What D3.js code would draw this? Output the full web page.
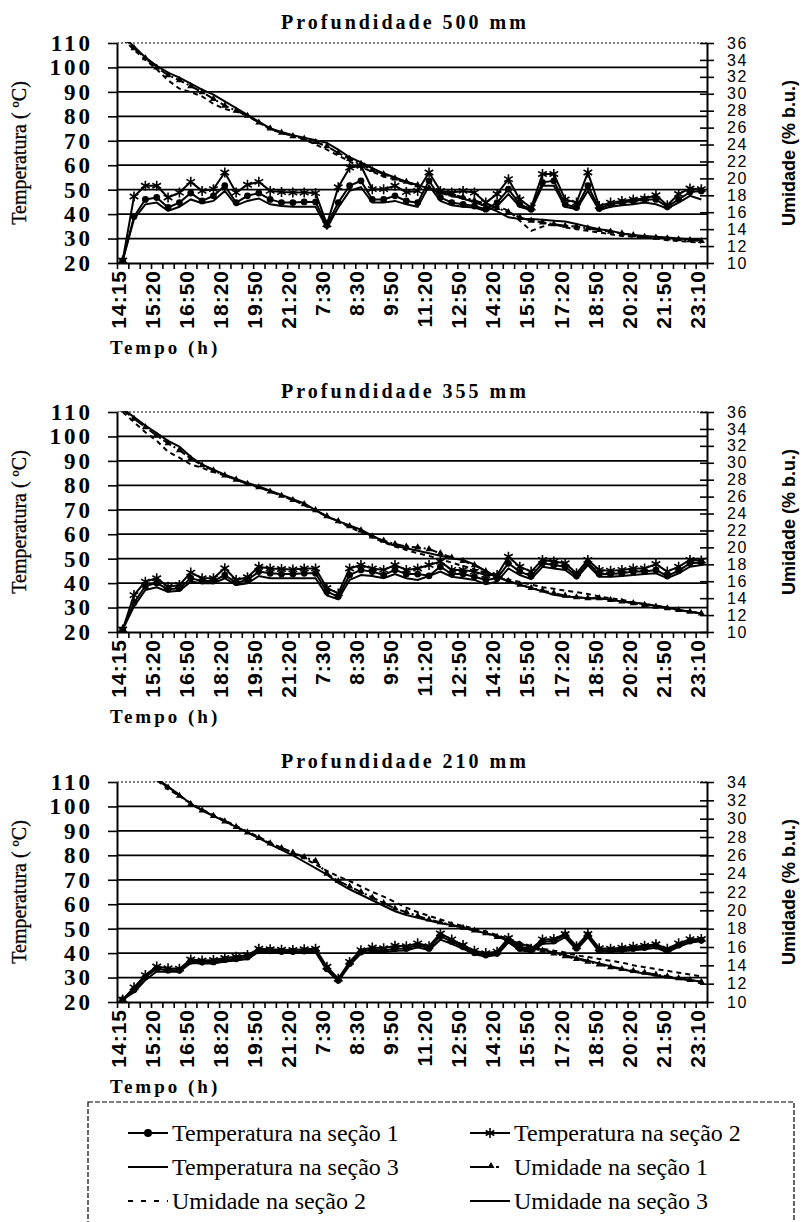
<!DOCTYPE html>
<html lang="pt">
<head>
  <meta charset="UTF-8">
  <title>Profundidade</title>
  <style>
    body { margin: 0; background: #ffffff; }
    svg { display: block; background: #ffffff; }
    .serif { font-family: "Liberation Serif", "Times New Roman", serif; }
    .sans { font-family: "Liberation Sans", Arial, sans-serif; }
  </style>
  <script type="text/javascript" src="https://d3js.org/d3.v7.min.js"></script>
</head>
<body>
</body>
<script type="text/javascript">

  // categories (time of reading), labels shown every third one
  var categories = ["14:15","14:35","15:00","15:20","15:50","16:20","16:50","17:20","17:50","18:20",
    "18:50","19:20","19:50","20:20","20:50","21:20","21:50","22:20","7:30","7:50",
    "8:10","8:30","8:50","9:20","9:50","10:20","10:50","11:20","11:50","12:20",
    "12:50","13:20","13:50","14:20","14:50","15:20","15:50","16:20","16:50","17:20",
    "17:50","18:20","18:50","19:20","19:50","20:20","20:50","21:20","21:50","22:20",
    "22:50","23:10"];

  var panelTitles = ["Profundidade 500 mm", "Profundidade 355 mm", "Profundidade 210 mm"];
  var tempTicks = [20, 30, 40, 50, 60, 70, 80, 90, 100, 110];
  var umidMax = [36, 36, 34];

  // ---- 500 mm ----
  var temp1_500 = [21, 39, 46, 46.8, 42.7, 44.7, 48.6, 45.4, 47.5, 51.6, 44.7, 47.5, 48.6, 46, 44.7, 44.7, 45, 45, 35.4, 44.7,
    51.6, 53.6, 46, 46, 47.5, 45.4, 44.7, 53.6, 46.8, 44.7, 44, 43.3, 42, 44.7, 50.2, 44, 42, 53, 53.6, 44,
    42.7, 51.6, 42.3, 44, 44.7, 45.4, 46, 46, 43, 46, 49, 49.5];
  var temp2_500 = [21, 47.2, 51.6, 51.6, 46.8, 48.8, 53.2, 49.5, 50.2, 57, 48.8, 52, 53.2, 49.5, 49, 48.8, 48.8, 48.6, 35.8, 51,
    59, 59.8, 50.2, 50.2, 51.6, 49, 49.5, 57, 49.5, 48.8, 49.5, 48.8, 44.7, 48.2, 54.3, 46, 42.7, 56.4, 56.4, 46,
    44.7, 57, 43.3, 44.7, 45.4, 46, 46.4, 47.7, 43.6, 48.2, 50.5, 50.2];
  var temp3_500 = [21, 38, 44, 44.7, 41.3, 43, 46, 44.5, 45.4, 49.5, 43.6, 45.4, 46.4, 44, 43.3, 43, 43, 43, 34.4, 42.7,
    49.5, 51, 44.7, 44.7, 45.4, 44, 43, 51.6, 45.4, 43.6, 43, 42.7, 41.3, 43.3, 48.2, 43, 41.7, 51.6, 51.6, 43,
    42, 49.5, 41.7, 43, 43.6, 44, 44.7, 44, 42.3, 44.7, 47.5, 46];
  var umid1_500 = [36.7, 35.4, 34.2, 33.1, 32.2, 31.6, 30.9, 30.2, 29.4, 28.6, 28.0, 27.4, 26.6, 25.9, 25.4, 25.0, 24.7, 24.3, 23.8, 23.0,
    22.3, 21.7, 21.0, 20.5, 20.0, 19.6, 19.2, 18.8, 18.4, 18.1, 17.8, 17.4, 17.0, 16.5, 16.0, 15.4, 15.0, 14.8, 14.6, 14.4,
    14.3, 14.1, 13.9, 13.7, 13.5, 13.3, 13.1, 13.0, 12.9, 12.8, 12.7, 12.6];
  var umid2_500 = [36.5, 35.2, 34.0, 32.9, 31.6, 30.6, 30.2, 29.7, 28.8, 28.2, 27.9, 27.4, 26.6, 25.8, 25.4, 25.0, 24.6, 24.0, 23.4, 22.7,
    22.0, 21.3, 20.8, 20.2, 19.9, 19.5, 19.1, 18.7, 18.3, 17.9, 17.6, 17.3, 17.0, 16.7, 16.2, 15.0, 13.8, 14.3, 14.6, 14.2,
    14.0, 13.8, 13.6, 13.4, 13.2, 13.1, 13.0, 12.9, 12.7, 12.6, 12.5, 12.4];
  var umid3_500 = [36.8, 35.6, 34.3, 33.3, 32.5, 31.9, 31.2, 30.5, 29.9, 29.1, 28.3, 27.5, 26.7, 25.9, 25.5, 25.1, 24.8, 24.5, 24.2, 23.4,
    22.5, 21.9, 21.2, 20.6, 20.1, 19.6, 19.2, 18.8, 18.4, 18.0, 17.6, 17.2, 16.7, 16.1, 15.4, 15.2, 15.2, 15.1, 15.0, 14.9,
    14.6, 14.3, 14.0, 13.8, 13.5, 13.3, 13.2, 13.1, 13.0, 12.9, 12.8, 12.7];

  // ---- 355 mm ----
  var temp1_355 = [21, 32, 38.8, 40, 37.5, 37.9, 42, 40.9, 40.9, 43.3, 40.2, 41.3, 44.7, 44, 43.7, 43.7, 44, 44, 36.5, 34.5,
    43.3, 45.4, 44.7, 43.3, 45.4, 43.7, 43.7, 43, 46.7, 43.7, 43.7, 42.6, 41.3, 42, 48.1, 44.7, 42.9, 48.1, 47.4, 46.7,
    42.9, 48.4, 43.7, 43.7, 44, 44.7, 44.7, 45.4, 42.9, 45.1, 48.1, 48.4];
  var temp2_355 = [21, 35.1, 40.6, 42, 38.5, 39.2, 44.3, 42, 42, 46.1, 41.3, 42.4, 46.7, 46, 45.8, 45.6, 46, 46, 38, 35.8,
    46, 47.4, 46, 45.4, 47.4, 45.4, 46, 47.4, 48.8, 45.4, 45.4, 44.7, 43.3, 43.3, 50.8, 46.7, 44.7, 49.5, 48.8, 48.1,
    44, 49.5, 45.4, 45.1, 45.4, 46, 46, 47.8, 44.7, 46.7, 49.5, 49.2];
  var temp3_355 = [21, 30.5, 37.2, 38.3, 36.5, 36.9, 40.6, 39.9, 39.9, 42, 39.2, 39.9, 42.9, 42, 42, 42, 42, 42, 35, 33.4,
    41.3, 43.3, 42.9, 42, 43.7, 42, 41.3, 42.9, 44.7, 42.6, 42, 41.3, 39.6, 40.6, 46, 43.3, 41.6, 46.7, 46, 45.4,
    42, 47.4, 42.6, 42.6, 42.9, 43.3, 43.7, 44, 42, 44, 46.7, 47.4];
  var umid1_355 = [36.3, 35.2, 34.2, 33.2, 32.3, 31.5, 30.5, 29.7, 29.1, 28.5, 28.0, 27.5, 27.1, 26.6, 26.1, 25.6, 25.1, 24.4, 23.7, 23.1,
    22.5, 22.0, 21.3, 20.8, 20.4, 20.1, 20.0, 19.8, 19.3, 18.8, 18.4, 17.9, 17.2, 16.6, 16.0, 15.6, 15.2, 14.9, 14.6, 14.3,
    14.1, 14.0, 14.0, 13.8, 13.6, 13.4, 13.2, 13.0, 12.8, 12.6, 12.4, 12.2];
  var umid2_355 = [36.0, 34.8, 33.6, 32.6, 31.3, 30.6, 29.8, 29.4, 28.9, 28.5, 28.0, 27.5, 27.1, 26.6, 26.1, 25.6, 25.0, 24.3, 23.7, 23.0,
    22.4, 21.8, 21.2, 20.6, 20.1, 19.7, 19.3, 19.0, 18.6, 18.2, 17.8, 17.4, 17.0, 16.6, 16.2, 15.9, 15.6, 15.3, 15.1, 14.9,
    14.7, 14.5, 14.2, 14.0, 13.8, 13.5, 13.3, 13.1, 12.9, 12.6, 12.4, 12.2];
  var umid3_355 = [36.4, 35.4, 34.4, 33.5, 32.6, 31.9, 30.7, 29.8, 29.2, 28.6, 28.1, 27.6, 27.2, 26.7, 26.2, 25.7, 25.2, 24.4, 23.6, 23.1,
    22.6, 22.1, 21.4, 20.7, 20.2, 19.9, 19.6, 19.3, 19.0, 18.7, 18.5, 18.0, 17.2, 16.5, 16.0, 15.6, 15.2, 14.8, 14.4, 14.2,
    14.1, 14.0, 14.0, 13.8, 13.6, 13.5, 13.3, 13.1, 12.9, 12.6, 12.4, 12.2];

  // ---- 210 mm ----
  var temp1_210 = [21, 25, 30.2, 33.6, 33, 33, 36.8, 36.4, 36.4, 37.3, 37.7, 38.4, 41.1, 41.1, 40.7, 40.7, 40.9, 41.1, 33.6, 28.9,
    35.7, 40.5, 41.4, 41.1, 41.8, 41.9, 43.3, 41.9, 47, 44.7, 42.6, 40.1, 39.2, 39.9, 45.3, 41.9, 41.2, 44.7, 45, 47.4,
    42, 47.4, 41.2, 41.2, 41.5, 41.9, 42.3, 42.9, 41, 43.3, 45, 45.3];
  var temp2_210 = [21, 26, 31, 34.5, 33.8, 33.6, 37.4, 37, 37.2, 38, 38.5, 39.2, 41.8, 41.6, 41.4, 41.3, 41.6, 41.8, 34.4, 29.5,
    36.4, 41.2, 42.3, 42, 43, 42.8, 44, 42.8, 48, 45.6, 43.3, 41, 40, 40.6, 46.2, 42.6, 41.8, 45.6, 45.8, 47.8,
    42.8, 47.8, 42, 41.8, 42.2, 42.6, 43, 43.6, 41.8, 44, 45.7, 45.8];
  var temp3_210 = [21, 24, 29, 32.5, 32.4, 32.4, 36, 35.8, 35.8, 36.6, 37, 37.6, 40.5, 40.5, 40.1, 40.1, 40.2, 40.4, 33, 28.5,
    35, 39.8, 40.6, 40.4, 41, 41.1, 42.4, 41.2, 45.5, 43.8, 41.8, 39.5, 38.6, 39.2, 44.4, 41.2, 40.6, 43.8, 44, 46.5,
    41.4, 46.5, 40.6, 40.6, 40.8, 41.2, 41.6, 42.2, 40.4, 42.6, 44.3, 44.8];
  var umid1_210 = [37.4, 36.5, 35.4, 34.3, 33.4, 32.5, 31.6, 30.9, 30.3, 29.7, 29.1, 28.5, 27.9, 27.3, 26.8, 26.3, 25.8, 25.4, 24.0, 23.2,
    22.6, 22.0, 21.4, 20.8, 20.2, 19.8, 19.4, 19.0, 18.7, 18.4, 18.1, 17.8, 17.5, 17.1, 16.7, 16.3, 15.9, 15.6, 15.3, 15.0,
    14.7, 14.4, 14.1, 13.8, 13.6, 13.4, 13.2, 13.0, 12.8, 12.6, 12.4, 12.2];
  var umid2_210 = [37.2, 36.3, 35.3, 34.2, 33.2, 32.5, 31.7, 31.0, 30.4, 29.8, 29.2, 28.6, 28.0, 27.4, 26.8, 26.3, 25.7, 25.0, 24.3, 23.7,
    23.2, 22.6, 22.0, 21.5, 20.9, 20.3, 19.8, 19.4, 19.0, 18.6, 18.3, 18.0, 17.7, 17.3, 16.9, 16.5, 16.1, 15.8, 15.6, 15.4,
    15.1, 14.9, 14.7, 14.5, 14.3, 14.0, 13.8, 13.6, 13.4, 13.2, 13.0, 12.8];
  var umid3_210 = [37.6, 36.6, 35.5, 34.4, 33.5, 32.6, 31.6, 30.9, 30.3, 29.7, 29.1, 28.5, 27.9, 27.2, 26.6, 26.0, 25.3, 24.6, 23.9, 23.0,
    22.3, 21.7, 21.1, 20.5, 19.9, 19.5, 19.2, 18.9, 18.6, 18.4, 18.1, 17.8, 17.5, 17.2, 16.8, 16.4, 16.0, 15.7, 15.4, 15.1,
    14.8, 14.5, 14.2, 13.9, 13.6, 13.3, 13.1, 12.9, 12.7, 12.5, 12.4, 12.2];

  var legendLabels = ["Temperatura na seção 1", "Temperatura na seção 2", "Temperatura na seção 3",
    "Umidade na seção 1", "Umidade na seção 2", "Umidade na seção 3"];

  var panels = [
    { title: panelTitles[0], umidMax: umidMax[0], temps: [temp1_500, temp2_500, temp3_500], umids: [umid1_500, umid2_500, umid3_500] },
    { title: panelTitles[1], umidMax: umidMax[1], temps: [temp1_355, temp2_355, temp3_355], umids: [umid1_355, umid2_355, umid3_355] },
    { title: panelTitles[2], umidMax: umidMax[2], temps: [temp1_210, temp2_210, temp3_210], umids: [umid1_210, umid2_210, umid3_210] }
  ];

  var plotTops = [43, 412, 782];
  var plotH = 220;
  var plotL = 117, plotR = 707;

  var svg = d3.select("body")
    .append("svg")
    .attr("width", 803)
    .attr("height", 1222);

  var symAsterisk = d3.symbol().type(d3.symbolAsterisk).size(70);
  var symTriangle = d3.symbol().type(d3.symbolTriangle).size(22);

  panels.forEach(function(p, pi) {
    var top = plotTops[pi], bottom = top + plotH;

    var x = d3.scaleBand().domain(d3.range(categories.length)).range([plotL, plotR]);
    var xb = d3.scaleLinear().domain([0, categories.length]).range([plotL, plotR]);
    var yT = d3.scaleLinear().domain([20, 110]).range([bottom, top]);
    var yU = d3.scaleLinear().domain([10, p.umidMax]).range([bottom, top]);
    var cx = function(i) { return x(i) + x.bandwidth() / 2; };

    var g = svg.append("g").attr("class", "panel");

    var clipId = "clip" + pi;
    svg.append("clipPath").attr("id", clipId)
      .append("rect")
      .attr("x", plotL).attr("y", top - 1)
      .attr("width", plotR - plotL + 2).attr("height", plotH + 2);

    // title
    g.append("text")
      .attr("class", "serif")
      .attr("x", 405).attr("y", top - 14)
      .attr("text-anchor", "middle")
      .style("font-size", "20px").style("font-weight", "bold")
      .style("letter-spacing", "3px")
      .text(p.title);

    // horizontal grid
    g.append("g")
      .selectAll("line")
      .data(tempTicks.slice(1))
      .enter().append("line")
      .attr("x1", plotL).attr("x2", plotR)
      .attr("y1", function(d) { return yT(d); })
      .attr("y2", function(d) { return yT(d); })
      .attr("stroke", "#000")
      .attr("stroke-width", function(d) { return d === 110 ? 1.2 : 1.8; })
      .attr("stroke-dasharray", function(d) { return d === 110 ? "2,2" : null; });

    // left axis
    var axL = g.append("g")
      .attr("transform", "translate(" + plotL + ",0)")
      .call(d3.axisLeft(yT).tickValues(tempTicks).tickSize(9).tickSizeOuter(0));
    axL.select(".domain").attr("stroke-width", 2);
    axL.selectAll(".tick line").attr("stroke-width", 1.6);
    axL.selectAll("text")
      .attr("class", "serif")
      .attr("x", -24)
      .style("font-size", "23px").style("font-weight", "bold")
      .style("letter-spacing", "3px")
      .attr("fill", "#000");

    // right axis
    var axR = g.append("g")
      .attr("transform", "translate(" + plotR + ",0)")
      .call(d3.axisRight(yU).tickValues(d3.range(10, p.umidMax + 1, 2)).tickSize(7).tickSizeOuter(0));
    axR.select(".domain").attr("stroke-width", 2);
    axR.selectAll(".tick line").attr("x1", -7).attr("x2", 7).attr("stroke-width", 1.6);
    axR.selectAll("text")
      .attr("class", "sans")
      .attr("x", 20)
      .style("font-size", "16px")
      .style("letter-spacing", "1.5px")
      .attr("fill", "#000");

    // bottom axis: tick marks on category boundaries
    var axB = g.append("g")
      .attr("transform", "translate(0," + bottom + ")")
      .call(d3.axisBottom(xb).tickValues(d3.range(categories.length + 1)).tickSize(6).tickSizeOuter(0).tickFormat(""));
    axB.select(".domain").attr("stroke-width", 2);
    axB.selectAll(".tick line").attr("stroke-width", 1.6);

    // bottom axis labels
    var axLab = g.append("g")
      .attr("transform", "translate(0," + bottom + ")")
      .call(d3.axisBottom(x)
        .tickValues(d3.range(0, categories.length, 3))
        .tickSize(0)
        .tickFormat(function(i) { return categories[i]; }));
    axLab.select(".domain").remove();
    axLab.selectAll("text")
      .attr("class", "sans")
      .attr("transform", "rotate(-90)")
      .attr("x", -7).attr("y", -4)
      .attr("dy", "0.35em")
      .style("text-anchor", "end")
      .style("font-size", "21px").style("font-weight", "bold")
      .style("letter-spacing", "1px")
      .attr("fill", "#000");

    // axis titles
    g.append("text")
      .attr("class", "serif")
      .attr("transform", "translate(19," + (top + plotH / 2) + ") rotate(-90)")
      .attr("text-anchor", "middle").attr("dy", "0.35em")
      .style("font-size", "20px")
      .attr("stroke", "#000").attr("stroke-width", 0.3)
      .text("Temperatura ( ºC)");

    g.append("text")
      .attr("class", "sans")
      .attr("transform", "translate(789," + (top + plotH / 2) + ") rotate(-90)")
      .attr("text-anchor", "middle").attr("dy", "0.35em")
      .style("font-size", "18px").style("font-weight", "bold")
      .text("Umidade (% b.u.)");

    g.append("text")
      .attr("class", "serif")
      .attr("x", 110).attr("y", bottom + 91)
      .style("font-size", "19px").style("font-weight", "bold")
      .style("letter-spacing", "3px")
      .text("Tempo (h)");

    // series
    var series = g.append("g").attr("clip-path", "url(#" + clipId + ")");

    var lineU = d3.line().x(function(d, i) { return cx(i); }).y(function(d) { return yU(d); });
    var lineT = d3.line().x(function(d, i) { return cx(i); }).y(function(d) { return yT(d); });

    var umidDash = ["9,3,2,3", "5,4", null];
    p.umids.forEach(function(arr, k) {
      series.append("path")
        .datum(arr)
        .attr("d", lineU)
        .attr("fill", "none")
        .attr("stroke", "#000")
        .attr("stroke-width", 2)
        .attr("stroke-dasharray", umidDash[k]);
    });
    series.append("g").selectAll("path")
      .data(p.umids[0])
      .enter().append("path")
      .attr("d", symTriangle)
      .attr("transform", function(d, i) { return "translate(" + cx(i) + "," + yU(d) + ")"; })
      .attr("fill", "#000");

    p.temps.forEach(function(arr) {
      series.append("path")
        .datum(arr)
        .attr("d", lineT)
        .attr("fill", "none")
        .attr("stroke", "#000")
        .attr("stroke-width", 2);
    });
    series.append("g").selectAll("circle")
      .data(p.temps[0])
      .enter().append("circle")
      .attr("cx", function(d, i) { return cx(i); })
      .attr("cy", function(d) { return yT(d); })
      .attr("r", 3.4)
      .attr("fill", "#000");
    series.append("g").selectAll("path")
      .data(p.temps[1])
      .enter().append("path")
      .attr("d", symAsterisk)
      .attr("transform", function(d, i) { return "translate(" + cx(i) + "," + yT(d) + ")"; })
      .attr("fill", "none")
      .attr("stroke", "#000")
      .attr("stroke-width", 1.6);
  });

  // legend
  var leg = svg.append("g").attr("class", "legend");
  leg.append("rect")
    .attr("x", 88).attr("y", 1102)
    .attr("width", 706).attr("height", 140)
    .attr("fill", "none")
    .attr("stroke", "#000")
    .attr("stroke-width", 1.2)
    .attr("stroke-dasharray", "5,2");

  var legCols = [128, 470];
  var legRows = [1133, 1167, 1201];
  var legKinds = ["circle", "asterisk", "line", "triangle", "dash", "line"];

  legendLabels.forEach(function(lbl, k) {
    var lx = legCols[k % 2], ly = legRows[Math.floor(k / 2)];
    var item = leg.append("g");
    var kind = legKinds[k];
    var dash = kind === "triangle" ? "20,6,3,20" : (kind === "dash" ? "5,8" : null);
    item.append("line")
      .attr("x1", lx).attr("x2", lx + 40)
      .attr("y1", ly).attr("y2", ly)
      .attr("stroke", "#000").attr("stroke-width", 2)
      .attr("stroke-dasharray", dash);
    if (kind === "circle") {
      item.append("circle").attr("cx", lx + 20).attr("cy", ly).attr("r", 4).attr("fill", "#000");
    } else if (kind === "asterisk") {
      item.append("path").attr("d", symAsterisk)
        .attr("transform", "translate(" + (lx + 20) + "," + ly + ")")
        .attr("fill", "none").attr("stroke", "#000").attr("stroke-width", 1.6);
    } else if (kind === "triangle") {
      item.append("path").attr("d", symTriangle)
        .attr("transform", "translate(" + (lx + 21) + "," + (ly - 1) + ")")
        .attr("fill", "#000");
    }
    item.append("text")
      .attr("class", "serif")
      .attr("x", lx + 44).attr("y", ly)
      .attr("dy", "0.35em")
      .style("font-size", "24px")
      .text(lbl);
  });

</script>
</html>
